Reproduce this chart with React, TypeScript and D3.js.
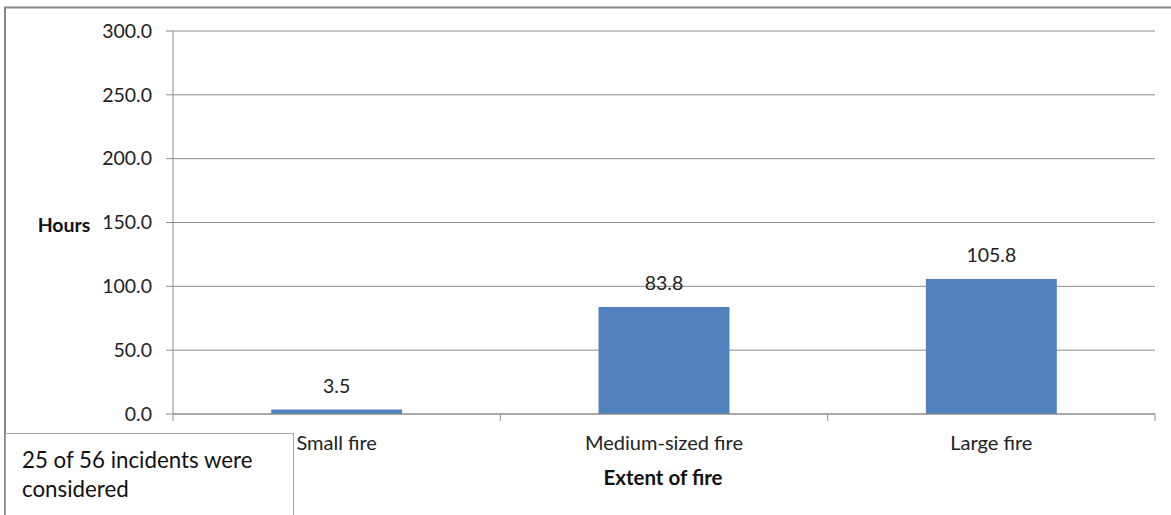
import React from "react";
import * as d3 from "d3";

const categories = ["Small fire", "Medium-sized fire", "Large fire"];
const hours = [3.5, 83.8, 105.8];
const yTicks = [0, 50, 100, 150, 200, 250, 300];
const yTitle = "Hours";
const xTitle = "Extent of fire";
const noteLines = ["25 of 56 incidents were", "considered"];

const W = 1171;
const H = 515;
const FONT = "Lato, 'Open Sans', sans-serif";

export default function App() {
  const left = 173, right = 1155, top = 31, bottom = 414;
  const x = d3.scaleBand<string>().domain(categories).range([left, right]).padding(0);
  const y = d3.scaleLinear().domain([0, 300]).range([bottom, top]);
  const barW = x.bandwidth() * 0.4;
  const boundaries = [left, ...categories.map((c) => (x(c) as number) + x.bandwidth())];

  return (
    <svg width={W} height={H} style={{ position: "absolute", left: 0, top: 0, display: "block" }} fontFamily={FONT}>
      <rect x={0} y={0} width={W} height={H} fill="#fff" />
      <rect x={5} y={7.5} width={W + 20} height={H + 20} fill="none" stroke="#868686" strokeWidth={2} />
      {yTicks.map((t) => (
        <g key={t}>
          <line x1={left - 7} x2={right} y1={y(t)} y2={y(t)} stroke="#8c8c8c" strokeWidth={1} />
          <text x={152} y={y(t)} dy="0.35em" textAnchor="end" fontSize={19.5} fill="#222">
            {t.toFixed(1)}
          </text>
        </g>
      ))}
      <line x1={left} x2={left} y1={top} y2={bottom} stroke="#8c8c8c" />
      {boundaries.map((b, i) => (
        <line key={i} x1={b} x2={b} y1={bottom} y2={bottom + 7} stroke="#8c8c8c" />
      ))}
      {categories.map((c, i) => {
        const cx = (x(c) as number) + x.bandwidth() / 2;
        return (
          <g key={c}>
            <rect x={cx - barW / 2} y={y(hours[i])} width={barW} height={bottom - y(hours[i])} fill="#4F81BD" />
            <text x={cx} y={y(hours[i]) - 17} textAnchor="middle" fontSize={19.5} fill="#222">
              {hours[i].toFixed(1)}
            </text>
            <text x={cx} y={443} dy="0.35em" textAnchor="middle" fontSize={20} fill="#222">
              {c}
            </text>
          </g>
        );
      })}
      <line x1={left} x2={right} y1={bottom} y2={bottom} stroke="#8c8c8c" />
      <text x={64} y={225} dy="0.35em" textAnchor="middle" fontSize={19.5} fontWeight="bold" fill="#111">
        {yTitle}
      </text>
      <text x={663} y={478} dy="0.35em" textAnchor="middle" fontSize={20.5} fontWeight="bold" fill="#111">
        {xTitle}
      </text>
      <rect x={5.5} y={433.5} width={288} height={100} fill="#fff" stroke="#a6a6a6" strokeWidth={1} />
      {noteLines.map((l, i) => (
        <text key={i} x={22} y={460 + i * 29} dy="0.35em" fontSize={22.3} fill="#111">
          {l}
        </text>
      ))}
    </svg>
  );
}
